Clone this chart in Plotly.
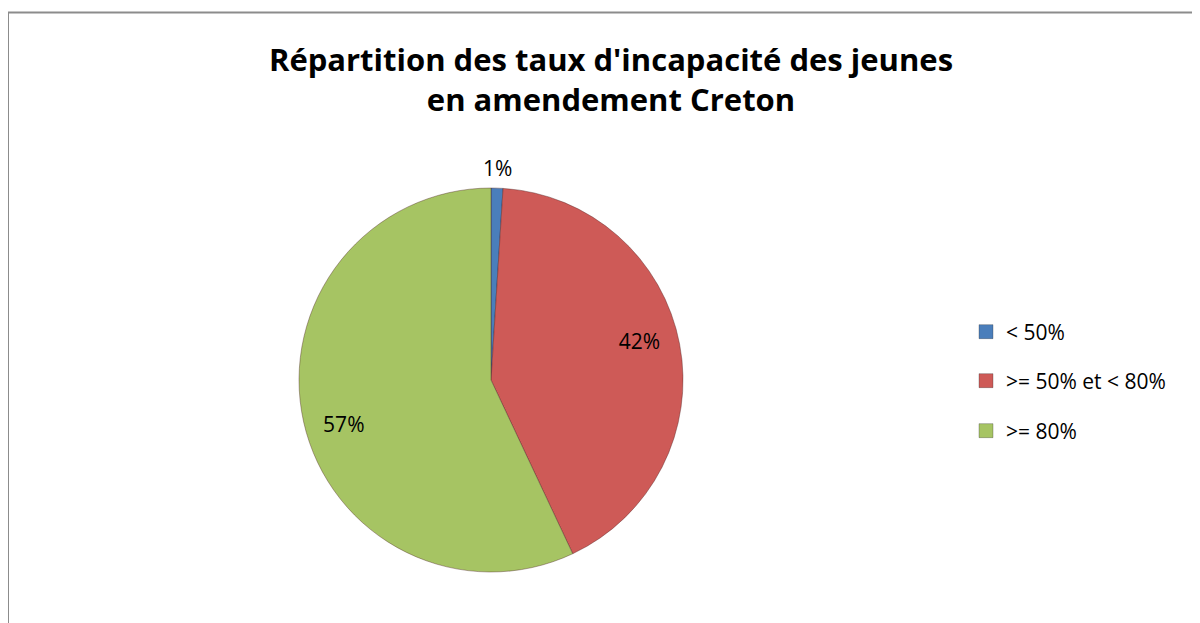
import math
import plotly.graph_objects as go

categories = ["< 50%", ">= 50% et < 80%", ">= 80%"]
values = [1, 42, 57]
colors = ["#4A7EBB", "#CE5A57", "#A6C463"]
title_lines = ["Répartition des taux d'incapacité des jeunes", "en amendement Creton"]

W, H = 1200, 623
cx, cy, r = 483, 372, 192          # pie centre / radius in px (figure coords)
FONT = "Open Sans, Lato, sans-serif"
dom = dict(x=[(cx - r) / W, (cx + r) / W], y=[1 - (cy + r) / H, 1 - (cy - r) / H])

fig = go.Figure()

# main pie (colours, no text)
fig.add_trace(go.Pie(
    labels=categories, values=values, sort=False, direction="clockwise", rotation=0,
    marker=dict(colors=colors, line=dict(color="rgba(70,30,30,0.55)", width=0.7)),
    textinfo="none", domain=dom, showlegend=False,
    hovertemplate="%{label}: %{percent:.0%}<extra></extra>",
))

# transparent ring carrying the inside percentage labels (placed mid-ring)
fig.add_trace(go.Pie(
    labels=categories, values=values, sort=False, direction="clockwise", rotation=-4,
    hole=0.6,
    marker=dict(colors=["rgba(0,0,0,0)"] * len(values), line=dict(width=0)),
    texttemplate="%{percent:.0%}",
    textposition=["none"] + ["inside"] * (len(values) - 1),
    insidetextorientation="horizontal",
    insidetextfont=dict(family=FONT, size=21, color="#000000"),
    domain=dom, showlegend=False, hoverinfo="skip",
))

# small first slice: label outside, centred above the slice
tot = sum(values)
ang = math.radians(values[0] / 2 / tot * 360)
lx = cx + (r + 20) * math.sin(ang)
ly = cy - (r + 20) * math.cos(ang)
fig.add_annotation(
    x=lx / W, y=1 - ly / H, xref="paper", yref="paper",
    xanchor="center", yanchor="middle",
    text=f"{values[0] / tot:.0%}", showarrow=False,
    font=dict(family=FONT, size=21, color="#000000"),
)

# legend entries (one legend per entry to get the wide spacing)
legend_y = [324, 373, 423]
for i, (cat, col) in enumerate(zip(categories, colors)):
    lname = "legend" if i == 0 else f"legend{i + 1}"
    fig.add_trace(go.Scatter(
        x=[None], y=[None], mode="markers", name=cat,
        marker=dict(symbol="square", size=14, color=col,
                    line=dict(color="rgba(40,40,40,0.5)", width=0.6)),
        legend=lname, showlegend=True, hoverinfo="skip",
    ))
    fig.update_layout({lname: dict(
        x=958 / W, xanchor="left", y=1 - legend_y[i] / H, yanchor="middle",
        font=dict(family=FONT, size=21, color="#000000"),
        bgcolor="rgba(0,0,0,0)", borderwidth=0,
    )})

fig.update_layout(
    width=W, height=H,
    margin=dict(l=0, r=0, t=0, b=0),
    paper_bgcolor="white", plot_bgcolor="white",
    xaxis=dict(visible=False), yaxis=dict(visible=False),
    title=dict(
        text="<br>".join(title_lines),
        x=603 / W, xanchor="center",
        y=1 - 62.5 / H, yanchor="middle",
        font=dict(family=FONT, size=31, color="#000000", weight="bold"),
    ),
    shapes=[dict(
        type="rect", xref="paper", yref="paper",
        x0=0, x1=1.05, y0=-0.05, y1=1 - 4.5 / H,
        line=dict(color="#8C8C8C", width=2),
    )],
)

fig.write_html("out.html")
